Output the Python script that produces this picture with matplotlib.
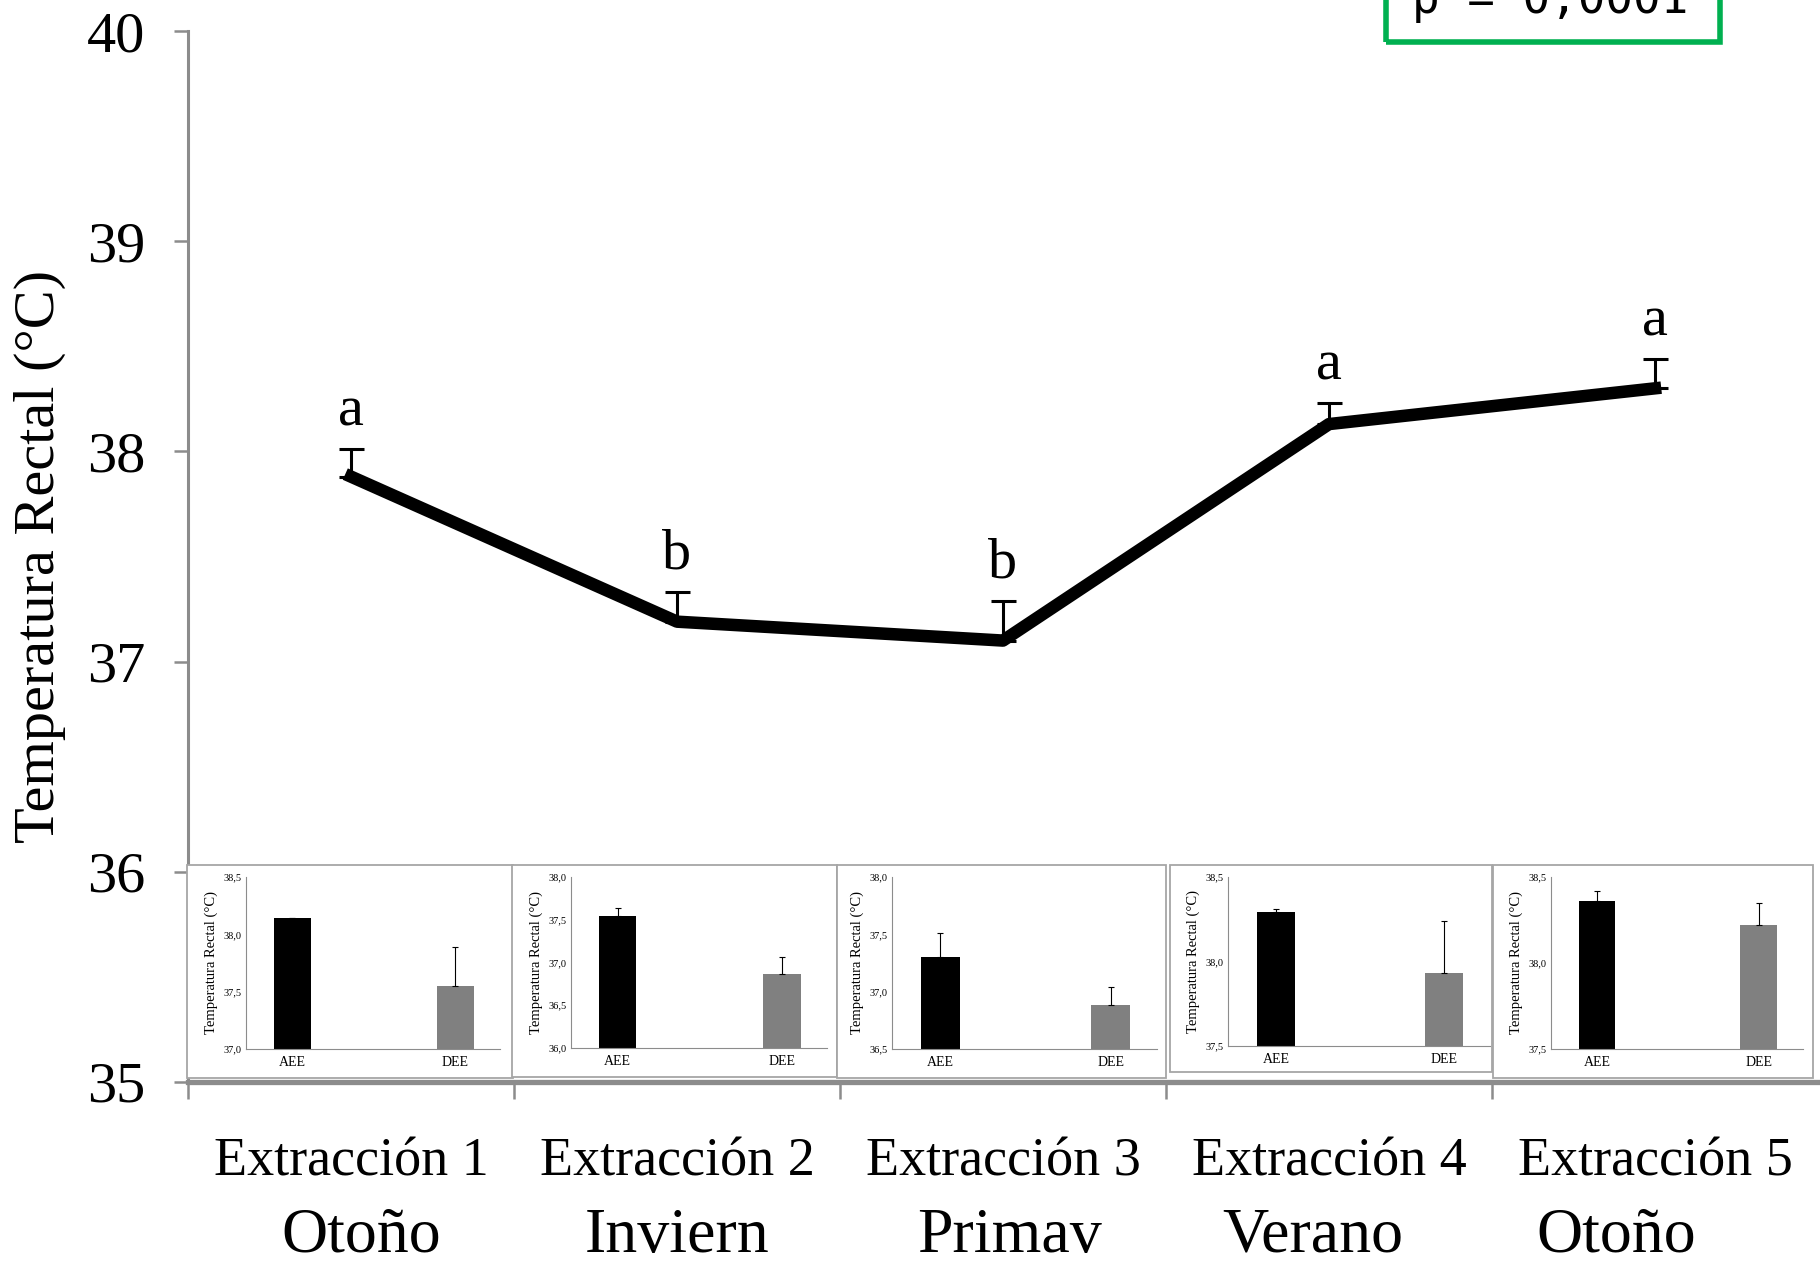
import matplotlib
matplotlib.use("Agg")
import matplotlib.pyplot as plt
from matplotlib.patches import Rectangle
from matplotlib.transforms import blended_transform_factory

plt.rcParams["font.family"] = ["Liberation Serif", "DejaVu Serif"]

# Main series: mean rectal temperature per extraction
extracciones = ["Extracción 1", "Extracción 2", "Extracción 3", "Extracción 4", "Extracción 5"]
estaciones = ["Otoño", "Inviern", "Primav", "Verano", "Otoño"]
temp_media = [37.88, 37.19, 37.10, 38.13, 38.30]
temp_err = [0.13, 0.14, 0.19, 0.10, 0.14]
letras = ["a", "b", "b", "a", "a"]
p_texto = "p = 0,0001"

# Small panels: before (AEE) and after (DEE) values per extraction
grupos = ["AEE", "DEE"]
aee_media = [38.14, 37.54, 37.30, 38.29, 38.36]
aee_err = [0.005, 0.10, 0.21, 0.02, 0.06]
dee_media = [37.55, 36.86, 36.88, 37.93, 38.22]
dee_err = [0.34, 0.20, 0.16, 0.31, 0.13]
inset_ylims = [(37.0, 38.5), (36.0, 38.0), (36.5, 38.0), (37.5, 38.5), (37.5, 38.5)]
inset_yticks = [
    [37.0, 37.5, 38.0, 38.5],
    [36.0, 36.5, 37.0, 37.5, 38.0],
    [36.5, 37.0, 37.5, 38.0],
    [37.5, 38.0, 38.5],
    [37.5, 38.0, 38.5],
]

W, H = 1820, 1261
fig = plt.figure(figsize=(W / 100, H / 100), dpi=100)


def px_rect(left, top, right, bottom):
    return [left / W, 1 - bottom / H, (right - left) / W, (bottom - top) / H]


gris = "#8c8c8c"

ax = fig.add_axes(px_rect(188, 31, 1818, 1082))
x = list(range(len(temp_media)))
ax.plot(x, temp_media, color="black", lw=9, solid_joinstyle="round", zorder=3)
ax.errorbar(x, temp_media, yerr=[[0] * len(temp_err), temp_err], fmt="none",
            ecolor="black", elinewidth=2.2, capsize=9, capthick=2.2, zorder=2)
for xi, m, e, l in zip(x, temp_media, temp_err, letras):
    ax.annotate(l, (xi, m + e), xytext=(0, 17), textcoords="offset points",
                ha="center", va="baseline", fontsize=42)

ax.set_xlim(-0.5, 4.5)
ax.set_ylim(35, 40)
ax.set_yticks([35, 36, 37, 38, 39, 40])
ax.set_xticks([-0.5, 0.5, 1.5, 2.5, 3.5])
ax.set_xticklabels([])
ax.tick_params(axis="y", labelsize=42, length=10, width=1.8, color=gris, pad=21)
ax.tick_params(axis="x", length=12, width=1.8, color=gris)
for s in ["top", "right"]:
    ax.spines[s].set_visible(False)
ax.spines["left"].set_color(gris)
ax.spines["left"].set_linewidth(2.2)
ax.spines["bottom"].set_color(gris)
ax.spines["bottom"].set_linewidth(3.8)
ax.set_ylabel("Temperatura Rectal (°C)", fontsize=42, labelpad=15)

# two rows of category labels under the axis
trans = blended_transform_factory(ax.transData, fig.transFigure)
desplaz = [0.03, 0.0, 0.02, -0.05, -0.12]
for xi, t1, t2, d in zip(x, extracciones, estaciones, desplaz):
    ax.text(xi, 1 - 1175 / H, t1, transform=trans, ha="center", va="baseline", fontsize=39)
    ax.text(xi + d, 1 - 1252 / H, t2, transform=trans, ha="center", va="baseline", fontsize=46)

# p-value box, running off the top edge
fig.patches.append(Rectangle((1386 / W, 1 - 42 / H), (1720 - 1386) / W, 80 / H,
                             transform=fig.transFigure, fill=False, edgecolor="#00b050",
                             linewidth=4, clip_on=False, zorder=5))
fig.text(1550 / W, 1 - 13 / H, p_texto, ha="center", va="baseline",
         fontsize=33, family="DejaVu Sans Mono")

# Small bar panels inside the main plot
cajas = [(187, 865, 513, 1078), (512, 865, 837, 1077), (837, 865, 1166, 1078),
         (1170, 865, 1492, 1072), (1493, 865, 1813, 1078)]
ejes = [(246, 877, 500, 1049), (571, 877, 827, 1048), (892, 877, 1157, 1049),
        (1228, 877, 1490, 1046), (1551, 877, 1803, 1049)]

for i in range(5):
    l, t, r, b = cajas[i]
    fig.patches.append(Rectangle((l / W, 1 - b / H), (r - l) / W, (b - t) / H,
                                 transform=fig.transFigure, facecolor="white",
                                 edgecolor="#a6a6a6", linewidth=1.3, zorder=1))
    iax = fig.add_axes(px_rect(*ejes[i]))
    iax.set_zorder(2)
    iax.patch.set_alpha(0)
    iax.bar([0, 1], [aee_media[i], dee_media[i]], width=0.227,
            color=["black", "#808080"], bottom=0)
    iax.errorbar([0, 1], [aee_media[i], dee_media[i]],
                 yerr=[[0, 0], [aee_err[i], dee_err[i]]], fmt="none",
                 ecolor="black", elinewidth=0.8, capsize=2, capthick=0.8)
    iax.set_xlim(-0.285, 1.273)
    iax.set_ylim(*inset_ylims[i])
    iax.set_yticks(inset_yticks[i])
    iax.set_yticklabels([f"{v:.1f}".replace(".", ",") for v in inset_yticks[i]])
    iax.set_xticks([0, 1])
    iax.set_xticklabels(grupos)
    iax.tick_params(axis="y", labelsize=7.5, length=0, pad=3)
    iax.tick_params(axis="x", labelsize=10, length=0, pad=5)
    for s in ["top", "right"]:
        iax.spines[s].set_visible(False)
    for s in ["left", "bottom"]:
        iax.spines[s].set_color(gris)
        iax.spines[s].set_linewidth(0.8)
    iax.set_ylabel("Temperatura Rectal (°C)", fontsize=10.5, labelpad=4)

fig.savefig("out.png", dpi=100)
